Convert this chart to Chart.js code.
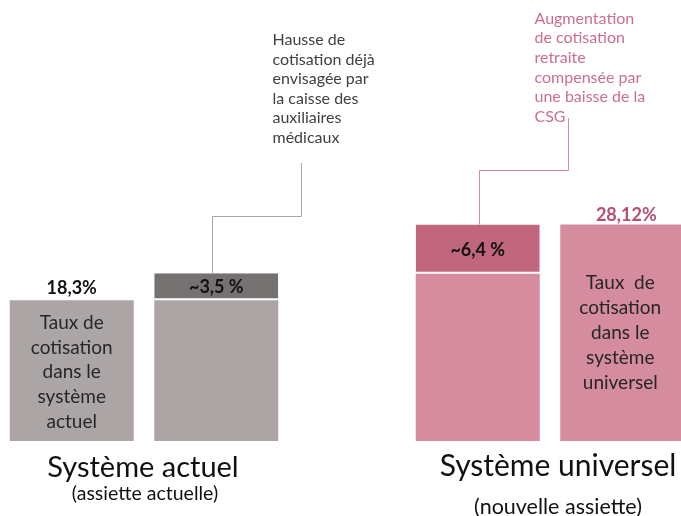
<!DOCTYPE html>
<html>
<head>
<meta charset="utf-8">
<script src="https://cdn.jsdelivr.net/npm/chart.js@4"></script>
<style>
  html, body { margin: 0; padding: 0; background: #ffffff; }
  #wrap { width: 681px; height: 516px; position: relative; }
</style>
</head>
<body>
<div id="wrap"><canvas id="c" width="681" height="516"></canvas></div>
<script>
// ---- data ----
const categories = ['Système actuel', 'Système universel'];
const subtitles = ['(assiette actuelle)', '(nouvelle assiette)'];
// left bar of each group (stack "a") and right bar of each group (stack "b")
const leftBase  = [18.3, 21.72];
const leftTop   = [null, 6.4];
const rightBase = [18.3, 28.12];
const rightTop  = [3.5, null];
const totalLabels = ['18,3%', '28,12%'];
const increaseLabels = ['~3,5 %', '~6,4 %'];
const barTexts = [
  ['Taux de', 'cotisation', 'dans le', 'système', 'actuel'],
  ['Taux  de', 'cotisation', 'dans le', 'système', 'universel']
];
const noteActuel = ['Hausse de', 'cotisation déjà', 'envisagée par', 'la caisse des', 'auxiliaires', 'médicaux'];
const noteUniversel = ['Augmentation', 'de cotisation', 'retraite', 'compensée par', 'une baisse de la', 'CSG'];

const GRAY = '#aba6a5', GRAY_D = '#767171', PINK = '#d48c9e', PINK_D = '#c1677d';
const FONT = 'Lato, "Open Sans", sans-serif';

const overlay = {
  id: 'overlay',
  afterDatasetsDraw(chart) {
    const ctx = chart.ctx;
    const m = i => chart.getDatasetMeta(i).data;
    const bar1 = m(0)[0], bar3base = m(0)[1], bar3top = m(1)[1];
    const bar2base = m(2)[0], bar2top = m(3)[0], bar4 = m(2)[1];
    ctx.save();
    ctx.textAlign = 'center';
    ctx.textBaseline = 'middle';

    // totals above bars
    ctx.font = 'bold 18px ' + FONT;
    ctx.fillStyle = '#111111';
    ctx.fillText(totalLabels[0], bar1.x, bar1.y - 12);
    ctx.fillStyle = '#b5506e';
    ctx.fillText(totalLabels[1], bar4.x + 4, bar4.y - 9);

    // increase labels inside top segments
    ctx.fillStyle = '#111111';
    ctx.fillText(increaseLabels[0], bar2top.x, (bar2top.y + bar2top.base) / 2 + 1);
    ctx.fillText(increaseLabels[1], bar3top.x, (bar3top.y + bar3top.base) / 2 + 1);

    // text inside bars
    ctx.font = '19px ' + FONT;
    ctx.fillStyle = '#262626';
    barTexts[0].forEach((t, i) => ctx.fillText(t, bar1.x, bar1.y + 23 + i * 24.6));
    barTexts[1].forEach((t, i) => ctx.fillText(t, bar4.x - 2, bar4.y + 58 + i * 25));

    // group labels
    ctx.fillStyle = '#111111';
    const xs = [ (bar1.x + bar2base.x) / 2, (bar3base.x + bar4.x) / 2 + 8 ];
    ctx.font = '29px ' + FONT;
    ctx.fillText(categories[0], xs[0] - 1, 468);
    ctx.font = '30px ' + FONT;
    ctx.fillText(categories[1], xs[1], 466);
    ctx.font = '19.5px ' + FONT;
    ctx.fillText(subtitles[0], xs[0] + 1, 494);
    ctx.font = '21.5px ' + FONT;
    ctx.fillText(subtitles[1], xs[1], 507);

    // connectors
    ctx.lineWidth = 1;
    ctx.strokeStyle = '#a6a6a6';
    ctx.beginPath();
    const ax = Math.round(bar2top.x - 4) + 0.5;
    ctx.moveTo(ax, bar2top.y);
    ctx.lineTo(ax, 216.5);
    ctx.lineTo(301.5, 216.5);
    ctx.lineTo(301.5, 163);
    ctx.stroke();

    ctx.strokeStyle = '#d68aa0';
    ctx.beginPath();
    const bx = Math.round(bar3top.x + 1) + 0.5;
    ctx.moveTo(bx, bar3top.y);
    ctx.lineTo(bx, 170.5);
    ctx.lineTo(568.5, 170.5);
    ctx.lineTo(568.5, 118);
    ctx.stroke();

    // notes
    ctx.textAlign = 'left';
    ctx.font = '16px ' + FONT;
    ctx.fillStyle = '#404040';
    noteActuel.forEach((t, i) => ctx.fillText(t, 272.5, 40 + i * 19.5));
    ctx.fillStyle = '#cc6f8b';
    noteUniversel.forEach((t, i) => ctx.fillText(t, 534.5, 18.5 + i * 19.65));
    ctx.restore();
  }
};

const sepBorder = { top: 0, left: 0, right: 0, bottom: 2 };

new Chart(document.getElementById('c'), {
  type: 'bar',
  data: {
    labels: categories,
    datasets: [
      { label: 'base gauche', data: leftBase, stack: 'a', backgroundColor: [GRAY, PINK], clip: false },
      { label: 'hausse gauche', data: leftTop, stack: 'a', backgroundColor: [GRAY_D, PINK_D], borderColor: '#ffffff', borderWidth: sepBorder, borderSkipped: false, clip: false },
      { label: 'base droite', data: rightBase, stack: 'b', backgroundColor: [GRAY, PINK], clip: false },
      { label: 'hausse droite', data: rightTop, stack: 'b', backgroundColor: [GRAY_D, PINK_D], borderColor: '#ffffff', borderWidth: sepBorder, borderSkipped: false, clip: false }
    ]
  },
  options: {
    responsive: false,
    animation: false,
    events: [],
    categoryPercentage: 0.712,
    barPercentage: 0.858,
    layout: { padding: { left: 144, right: 131, top: 10, bottom: 75 } },
    scales: {
      x: { type: 'category', stacked: true, offset: false, display: false },
      y: { stacked: true, min: 0, max: 56, display: false }
    },
    plugins: { legend: { display: false }, tooltip: { enabled: false } }
  },
  plugins: [overlay]
});
</script>
</body>
</html>
